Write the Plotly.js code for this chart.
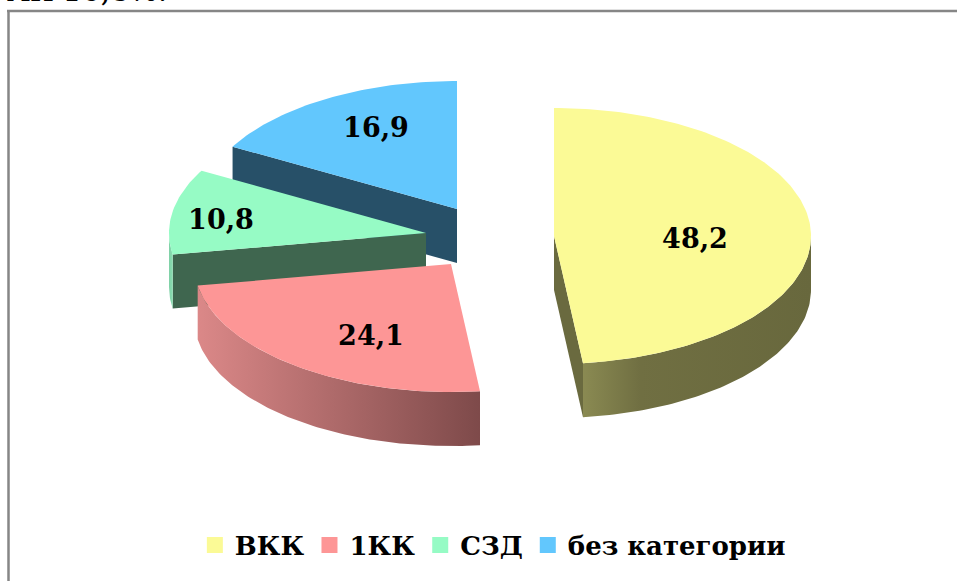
<!DOCTYPE html>
<html><head><meta charset="utf-8">
<script src="https://cdn.plot.ly/plotly-3.0.1.min.js"></script>
<style>html,body{margin:0;padding:0;background:#fff;overflow:hidden}</style>
</head><body><div id="chart" style="width:957px;height:581px"></div>
<script>
const categories = ['ВКК', '1КК', 'СЗД', 'без категории'];
const values = [48.2, 24.1, 10.8, 16.9];
const valueLabels = ['48,2', '24,1', '10,8', '16,9'];
const topColors = ['#FBFA96', '#FD9696', '#96FBC5', '#62C7FD'];
const radialWallColors = ['#6A6A3F', '#7F4A4A', '#3F664F', '#275068'];
const arcWallScales = [
  [[0, '#8A8A52'], [0.25, '#706F42'], [1, '#68683D']],
  [[0, '#DB8888'], [1, '#7E4A4A']],
  [[0, '#7FD0A6'], [1, '#8ADFB2']],
  null
];
const centers = [[554, 236], [451, 264], [426, 233], [457, 209]];
const labelAnchors = [[695, 241], [371, 338], [221, 222], [376, 130]];
const RX = 257, RY = 128, DEPTH = 54;
const FONT = '"DejaVu Serif", serif';

const total = values.reduce((a, b) => a + b, 0);
let run = 0;
const spans = values.map(v => { const s = [run / total * 360, (run + v) / total * 360]; run += v; return s; });
const rad = d => d * Math.PI / 180;
const pt = (c, t, dz) => [c[0] + RX * Math.sin(rad(t)), c[1] - RY * Math.cos(rad(t)) + (dz || 0)];
function arc(c, t0, t1, dz) {
  const n = Math.max(2, Math.ceil(Math.abs(t1 - t0)));
  const out = [];
  for (let i = 0; i <= n; i++) out.push(pt(c, t0 + (t1 - t0) * i / n, dz));
  return out;
}
function poly(points, extra) {
  const closed = points.concat([points[0]]);
  return Object.assign({
    x: closed.map(p => p[0]), y: closed.map(p => p[1]),
    type: 'scatter', mode: 'lines', fill: 'toself', line: {width: 0},
    hoverinfo: 'skip', showlegend: false
  }, extra);
}

const traces = [];
[3, 2, 1, 0].forEach(i => {
  const c = centers[i], [t0, t1] = spans[i];
  const radialT = i === 0 ? t1 : (i >= 2 ? t0 : null);
  if (radialT !== null) {
    const a = [c[0], c[1]], b = pt(c, radialT);
    traces.push(poly([a, b, [b[0], b[1] + DEPTH], [a[0], a[1] + DEPTH]], {fillcolor: radialWallColors[i]}));
  }
  const a0 = Math.max(t0, 90), a1 = Math.min(t1, 270);
  if (a1 > a0 && arcWallScales[i]) {
    const upper = arc(c, a0, a1, 0), lower = arc(c, a1, a0, DEPTH);
    traces.push(poly(upper.concat(lower), {
      fillgradient: {type: 'horizontal', colorscale: arcWallScales[i]}
    }));
  }
  traces.push(poly([[c[0], c[1]]].concat(arc(c, t0, t1, 0)), {fillcolor: topColors[i]}));
});

traces.push({
  x: labelAnchors.map(p => p[0]), y: labelAnchors.map(p => p[1]),
  text: valueLabels, type: 'scatter', mode: 'text', hoverinfo: 'skip', showlegend: false,
  textposition: 'middle center',
  textfont: {family: FONT, size: 27, color: '#000', weight: 'bold'}
});
categories.forEach((name, i) => traces.push({
  x: [null], y: [null], name, type: 'scatter', mode: 'markers',
  marker: {symbol: 'square', size: 16, color: topColors[i]}
}));

const layout = {
  width: 957, height: 581, margin: {l: 0, r: 0, t: 0, b: 0},
  paper_bgcolor: '#fff', plot_bgcolor: '#fff',
  xaxis: {range: [0, 957], visible: false, fixedrange: true},
  yaxis: {range: [581, 0], visible: false, fixedrange: true},
  showlegend: true,
  legend: {
    orientation: 'h', x: 0.515, xanchor: 'center', y: 0.062, yanchor: 'middle',
    font: {family: FONT, size: 26, color: '#000', weight: 'bold'},
    itemclick: false, itemdoubleclick: false, bgcolor: 'rgba(0,0,0,0)', tracegroupgap: 0
  },
  shapes: [
    {type: 'line', xref: 'x', yref: 'y', x0: 7, x1: 957, y0: 11, y1: 11, line: {color: '#868686', width: 2.5}},
    {type: 'line', xref: 'x', yref: 'y', x0: 8.5, x1: 8.5, y0: 10, y1: 581, line: {color: '#868686', width: 2.5}}
  ],
  annotations: [{
    xref: 'x', yref: 'y', x: 5, y: 10, xanchor: 'left', yanchor: 'bottom', showarrow: false,
    text: 'АК 16,8%.', font: {family: FONT, size: 30, color: '#000'}
  }]
};
Plotly.newPlot('chart', traces, layout, {displayModeBar: false, staticPlot: true});
</script></body></html>
